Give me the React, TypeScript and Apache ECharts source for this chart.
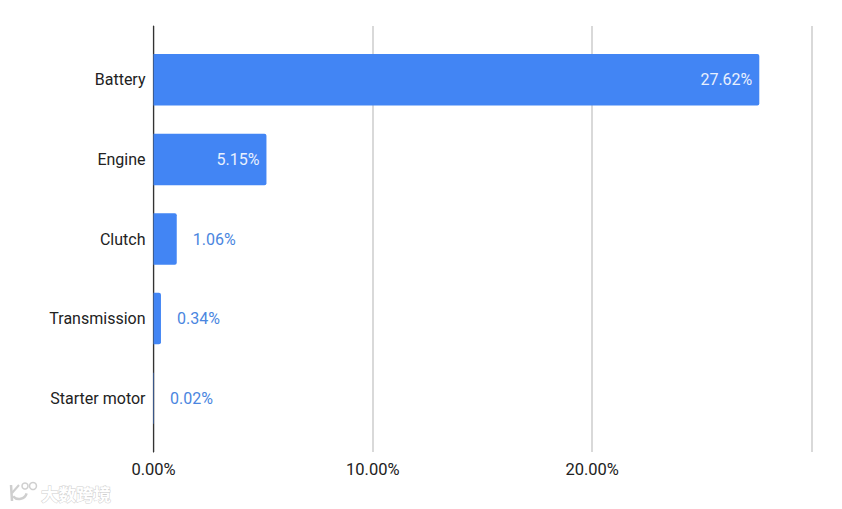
import React, { useEffect, useRef } from 'react';
import * as echarts from 'echarts';

const categories = ['Battery', 'Engine', 'Clutch', 'Transmission', 'Starter motor'];
const shares = [27.62, 5.15, 1.06, 0.34, 0.02];
const insideLabelCount = 2;
const xTicks = { min: 0, max: 30, interval: 10 };

const BLUE = '#4285f4';
const LABEL_FONT = 'Roboto';
const MARK = '#cfcfcf';

const formatPercent = (v: number) => v.toFixed(2) + '%';

const App: React.FC = () => {
  const chartRef = useRef<HTMLDivElement>(null);

  useEffect(() => {
    const chart = echarts.init(chartRef.current!, undefined, { renderer: 'svg' });

    chart.setOption({
      animation: false,
      backgroundColor: '#fff',
      // first grid holds the tall axis line and gridlines, second one the bars
      grid: [
        { left: 153.5, top: 26, width: 658, height: 426 },
        { left: 153.5, top: 40, width: 658, height: 398 },
      ],
      xAxis: [
        {
          type: 'value',
          gridIndex: 0,
          ...xTicks,
          axisLine: { show: false },
          axisTick: { show: false },
          axisLabel: {
            color: '#222',
            fontFamily: LABEL_FONT,
            fontSize: 16.5,
            margin: 9,
            formatter: (v: number) => (v === xTicks.max ? '' : formatPercent(v)),
          },
          splitLine: { lineStyle: { color: '#cccccc', width: 1.5 } },
        },
        { type: 'value', gridIndex: 1, ...xTicks, show: false },
      ],
      yAxis: [
        {
          type: 'category',
          gridIndex: 0,
          data: [''],
          axisLine: { onZero: false, lineStyle: { color: '#333', width: 1.2 } },
          axisTick: { show: false },
          axisLabel: { show: false },
        },
        {
          type: 'category',
          gridIndex: 1,
          inverse: true,
          data: categories,
          axisLine: { show: false },
          axisTick: { show: false },
          axisLabel: { color: '#222', fontFamily: LABEL_FONT, fontSize: 16, margin: 8 },
        },
      ],
      series: [
        {
          type: 'bar',
          xAxisIndex: 1,
          yAxisIndex: 1,
          barWidth: 51.5,
          z: 3,
          itemStyle: { color: BLUE, borderRadius: [0, 2, 2, 0] },
          data: shares.map((value, i) => ({
            value,
            label:
              i < insideLabelCount
                ? { position: 'insideRight', distance: 7, color: '#e8f0fe' }
                : { position: 'right', distance: 16, color: '#4a86e0' },
          })),
          label: {
            show: true,
            fontFamily: LABEL_FONT,
            fontSize: 16,
            formatter: (p: { value: number }) => formatPercent(p.value),
          },
        },
      ],
      // faint watermark in the bottom left corner
      graphic: [
        {
          type: 'group',
          x: 0,
          y: 0,
          silent: true,
          children: [
            { type: 'line', shape: { x1: 11, y1: 485, x2: 12, y2: 501 }, style: { stroke: MARK, lineWidth: 2.5 } },
            { type: 'line', shape: { x1: 12, y1: 493, x2: 19, y2: 485 }, style: { stroke: MARK, lineWidth: 2 } },
            { type: 'arc', shape: { cx: 19, cy: 491, r: 8, startAngle: 0.3, endAngle: 2.4 }, style: { fill: 'none', stroke: MARK, lineWidth: 2.5 } },
            { type: 'circle', shape: { cx: 25, cy: 486, r: 3 }, style: { fill: 'none', stroke: MARK, lineWidth: 1.5 } },
            { type: 'circle', shape: { cx: 33, cy: 486, r: 3.5 }, style: { fill: 'none', stroke: MARK, lineWidth: 1.5 } },
            {
              type: 'text',
              x: 41,
              y: 485,
              style: {
                text: '大数跨境',
                fontFamily: 'Noto Sans CJK SC',
                fontSize: 17.5,
                fontWeight: 'bold',
                fill: '#fff',
                stroke: MARK,
                lineWidth: 1,
              },
            },
          ],
        },
      ],
    });

    return () => {
      chart.dispose();
    };
  }, []);

  return (
    <div
      ref={chartRef}
      style={{ position: 'absolute', left: 0, top: 0, width: 842, height: 509 }}
    />
  );
};

export default App;
